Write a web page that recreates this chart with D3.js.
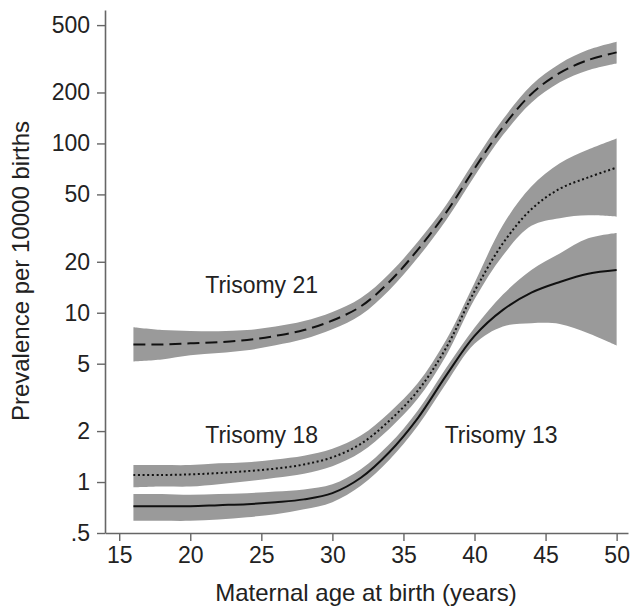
<!DOCTYPE html>
<html>
<head>
<meta charset="utf-8">
<script src="https://cdn.jsdelivr.net/npm/d3@7"></script>
<style>
  body { margin: 0; background: #fff; }
  svg text { font-family: "Liberation Sans", Arial, sans-serif; fill: #222; }
</style>
</head>
<body>
<div id="chart"></div>
<script>
// Maternal age (years) at which the fitted curves are read
const ages = [16, 18, 20, 22, 24, 26, 28, 30, 32, 34, 36, 38, 40, 42, 44, 46, 48, 50];

// Trisomy 21: fit and 95% band (per 10000 births)
const t21 = [6.5, 6.5, 6.6, 6.7, 6.9, 7.3, 7.9, 9.0, 10.9, 15.2, 23.5, 39, 71, 125, 196, 261, 311, 345];
const t21Lo = [5.16, 5.3, 5.6, 5.78, 6.0, 6.42, 6.99, 7.98, 9.7, 13.6, 21.1, 35.2, 64, 112, 174, 230, 271, 297];
const t21Hi = [8.2, 7.9, 7.8, 7.77, 7.9, 8.3, 8.93, 10.1, 12.2, 17.0, 26.2, 43.3, 79, 139, 221, 296, 357, 399];

// Trisomy 18
const t18 = [1.10, 1.10, 1.11, 1.13, 1.16, 1.20, 1.27, 1.40, 1.68, 2.3, 3.45, 6.2, 13.4, 25.7, 40.9, 54, 63, 72];
const t18Lo = [0.93, 0.94, 0.94, 0.97, 1.01, 1.06, 1.12, 1.24, 1.5, 2.06, 3.1, 5.58, 12.0, 21.8, 32.6, 36.2, 37.6, 36.9];
const t18Hi = [1.26, 1.26, 1.26, 1.29, 1.31, 1.36, 1.43, 1.57, 1.88, 2.57, 3.83, 6.9, 15.0, 33.0, 55.6, 76.3, 92, 107];

// Trisomy 13
const t13 = [0.72, 0.72, 0.72, 0.73, 0.74, 0.76, 0.79, 0.86, 1.06, 1.5, 2.38, 4.25, 7.3, 10.4, 13.15, 15.2, 17.0, 17.9];
const t13Lo = [0.59, 0.59, 0.59, 0.60, 0.62, 0.645, 0.69, 0.76, 0.95, 1.35, 2.14, 3.82, 6.55, 8.3, 8.67, 8.58, 7.56, 6.4];
const t13Hi = [0.85, 0.85, 0.84, 0.85, 0.86, 0.88, 0.905, 0.97, 1.19, 1.67, 2.64, 4.72, 8.15, 12.8, 17.9, 22.4, 27.5, 29.6];

const xTicks = [15, 20, 25, 30, 35, 40, 45, 50];
const yTicks = [0.5, 1, 2, 5, 10, 20, 50, 100, 200, 500];

const labelText = ["Trisomy 21", "Trisomy 18", "Trisomy 13"];
const labelAge = [21.05, 21.05, 37.9];
const labelValue = [14.6, 1.9, 1.9];

const width = 630;
const height = 607;

const svg = d3.select("#chart")
  .append("svg")
  .attr("width", width)
  .attr("height", height);

const x = d3.scaleLinear().domain([14, 50.8]).range([105, 628]);
const y = d3.scaleLog().domain([0.5, 614]).range([533, 10]);

const series = [
  { mid: t21, lo: t21Lo, hi: t21Hi, dash: "12,6" },
  { mid: t18, lo: t18Lo, hi: t18Hi, dash: "2,2.6" },
  { mid: t13, lo: t13Lo, hi: t13Hi, dash: null }
];

const curve = d3.curveCatmullRom.alpha(0.5);

const band = d3.area()
  .x((d, i) => x(ages[i]))
  .y0(d => y(d[0]))
  .y1(d => y(d[1]))
  .curve(curve);

const line = d3.line()
  .x((d, i) => x(ages[i]))
  .y(d => y(d))
  .curve(curve);

// bands first, then the fitted lines on top
series.forEach(s => {
  svg.append("path")
    .attr("d", band(s.lo.map((v, i) => [v, s.hi[i]])))
    .attr("fill", "#9a9a9a");
});

series.forEach(s => {
  svg.append("path")
    .attr("d", line(s.mid))
    .attr("fill", "none")
    .attr("stroke", "#111")
    .attr("stroke-width", 2)
    .attr("stroke-dasharray", s.dash);
});

// axes
const fmt = d => d === 0.5 ? ".5" : String(d);

const yAxis = svg.append("g")
  .attr("transform", "translate(105,0)")
  .call(d3.axisLeft(y).tickValues(yTicks).tickFormat(fmt).tickSize(8).tickSizeOuter(0).tickPadding(7));

const xAxis = svg.append("g")
  .attr("transform", "translate(0,533)")
  .call(d3.axisBottom(x).tickValues(xTicks).tickFormat(d3.format("d")).tickSize(8).tickSizeOuter(0).tickPadding(6));

[yAxis, xAxis].forEach(g => {
  g.select(".domain").attr("stroke", "#666").attr("stroke-width", 1.6);
  g.selectAll(".tick line").attr("stroke", "#666").attr("stroke-width", 1.4);
  g.selectAll(".tick text").style("font-size", "23px").attr("fill", "#222");
});

svg.append("text")
  .attr("x", 366)
  .attr("y", 601)
  .attr("text-anchor", "middle")
  .style("font-size", "24px")
  .text("Maternal age at birth (years)");

svg.append("text")
  .attr("transform", "translate(29,271) rotate(-90)")
  .attr("text-anchor", "middle")
  .style("font-size", "24px")
  .text("Prevalence per 10000 births");

svg.selectAll(".curve-label")
  .data(labelText)
  .enter()
  .append("text")
  .attr("class", "curve-label")
  .attr("x", (d, i) => x(labelAge[i]))
  .attr("y", (d, i) => y(labelValue[i]))
  .attr("dy", "0.35em")
  .style("font-size", "23px")
  .text(d => d);
</script>
</body>
</html>
